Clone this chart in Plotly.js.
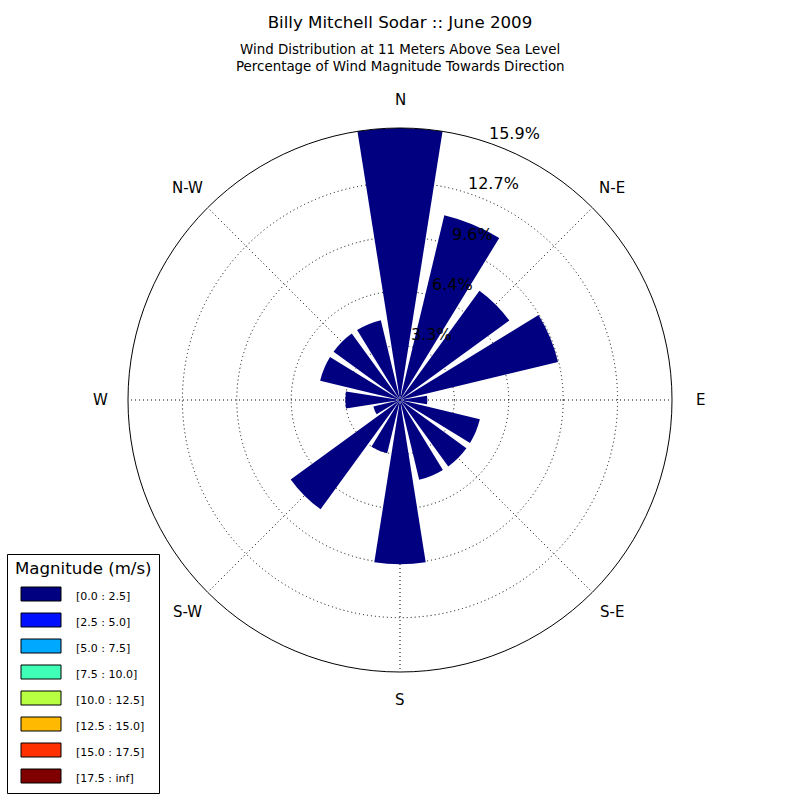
<!DOCTYPE html>
<html>
<head>
<meta charset="utf-8">
<script src="https://cdn.plot.ly/plotly-3.0.1.min.js"></script>
<style>
  html, body { margin: 0; padding: 0; background: #ffffff; }
  #chart { width: 800px; height: 800px; }
</style>
</head>
<body>
<div id="chart"></div>
<script>
// Sixteen direction sectors, clockwise from north
const directions = ['N', 'NNE', 'NE', 'ENE', 'E', 'ESE', 'SE', 'SSE',
                    'S', 'SSW', 'SW', 'WSW', 'W', 'WNW', 'NW', 'NNW'];

// Magnitude bins (m/s) and their colours
const binLabels = ['[0.0 : 2.5]', '[2.5 : 5.0]', '[5.0 : 7.5]', '[7.5 : 10.0]',
                   '[10.0 : 12.5]', '[12.5 : 15.0]', '[15.0 : 17.5]', '[17.5 : inf]'];
const binColors = ['#000080', '#0010ff', '#00a8ff', '#40ffb7',
                   '#b7ff40', '#ffb900', '#ff3000', '#800000'];

// Percentage of wind samples per sector, one array per magnitude bin
const bin0 = [15.9, 11.1, 7.9, 9.5, 1.6, 4.8, 4.8, 4.8, 9.6, 3.2, 7.9, 1.6, 3.2, 4.8, 4.8, 4.8];
const bin1 = [0, 0, 0, 0, 0, 0, 0, 0, 0, 0, 0, 0, 0, 0, 0, 0];
const bin2 = [0, 0, 0, 0, 0, 0, 0, 0, 0, 0, 0, 0, 0, 0, 0, 0];
const bin3 = [0, 0, 0, 0, 0, 0, 0, 0, 0, 0, 0, 0, 0, 0, 0, 0];
const bin4 = [0, 0, 0, 0, 0, 0, 0, 0, 0, 0, 0, 0, 0, 0, 0, 0];
const bin5 = [0, 0, 0, 0, 0, 0, 0, 0, 0, 0, 0, 0, 0, 0, 0, 0];
const bin6 = [0, 0, 0, 0, 0, 0, 0, 0, 0, 0, 0, 0, 0, 0, 0, 0];
const bin7 = [0, 0, 0, 0, 0, 0, 0, 0, 0, 0, 0, 0, 0, 0, 0, 0];

// Compass labels and radial ring labels
const compassLabels = ['N', 'N-E', 'E', 'S-E', 'S', 'S-W', 'W', 'N-W'];
const ringLabels = ['3.3%', '6.4%', '9.6%', '12.7%', '15.9%'];

const FONT = 'DejaVu Sans, Bitstream Vera Sans, sans-serif';
const W = 800, H = 800;
const bins = [bin0, bin1, bin2, bin3, bin4, bin5, bin6, bin7];

// Sector centre angles in degrees
const theta = directions.map((d, i) => i * 22.5);
const sectorWidth = 22.5 * 0.8;

// Outer ring = largest stacked sector total
const totals = directions.map((d, i) => bins.reduce((s, b) => s + b[i], 0));
const rmax = Math.max(...totals);
const ringVals = ringLabels.map((t, i) => rmax * (i + 1) / ringLabels.length);

const traces = bins.map((vals, k) => ({
  type: 'barpolar',
  r: vals,
  theta: theta,
  width: directions.map(() => sectorWidth),
  name: binLabels[k],
  marker: { color: binColors[k], line: { width: 0 } },
  showlegend: false,
  hoverinfo: 'skip'
}));

// Polar area geometry (paper units)
const domLo = 128 / W, domHi = 672 / W;
const cx = 0.5, cy = 0.5, R = (domHi - domLo) / 2;

const annotations = [];

// Title lines under the main title
annotations.push({
  xref: 'paper', yref: 'paper', x: 0.5, y: 1 - 49.5 / H,
  xanchor: 'center', yanchor: 'middle', showarrow: false,
  text: 'Wind Distribution at 11 Meters Above Sea Level',
  font: { family: FONT, size: 13.4, color: '#000' }
});
annotations.push({
  xref: 'paper', yref: 'paper', x: 0.5, y: 1 - 66 / H,
  xanchor: 'center', yanchor: 'middle', showarrow: false,
  text: 'Percentage of Wind Magnitude Towards Direction',
  font: { family: FONT, size: 13.4, color: '#000' }
});

// Compass labels just outside the outer ring
const compassRadius = 300 / W;
compassLabels.forEach((lab, i) => {
  const a = i * 45 * Math.PI / 180;
  annotations.push({
    xref: 'paper', yref: 'paper',
    x: cx + compassRadius * Math.sin(a),
    y: cy + compassRadius * Math.cos(a),
    xanchor: 'center', yanchor: 'middle', showarrow: false,
    text: lab,
    font: { family: FONT, size: 15, color: '#000' }
  });
});

// Ring labels along the 22.5 degree bearing
const labAng = 22.5 * Math.PI / 180;
ringVals.forEach((v, i) => {
  const rp = v / rmax * R;
  annotations.push({
    xref: 'paper', yref: 'paper',
    x: cx + rp * Math.sin(labAng) + 10.5 / W,
    y: cy + rp * Math.cos(labAng) + 15 / H,
    xanchor: 'center', yanchor: 'middle', showarrow: false,
    text: ringLabels[i],
    font: { family: FONT, size: 16, color: '#000' }
  });
});

// Legend box with title, colour patches and bin labels
const shapes = [];
shapes.push({
  type: 'rect', xref: 'paper', yref: 'paper',
  x0: 7.5 / W, x1: 159.5 / W, y0: 1 - 793.5 / H, y1: 1 - 554.5 / H,
  line: { color: '#000', width: 1 }, fillcolor: '#fff', layer: 'above'
});
annotations.push({
  xref: 'paper', yref: 'paper', x: 83 / W, y: 1 - 568 / H,
  xanchor: 'center', yanchor: 'middle', showarrow: false,
  text: 'Magnitude (m/s)',
  font: { family: FONT, size: 16.6, color: '#000' }
});
binLabels.forEach((lab, k) => {
  const top = 587 + k * 26;
  shapes.push({
    type: 'rect', xref: 'paper', yref: 'paper',
    x0: 21 / W, x1: 61 / W, y0: 1 - (top + 14) / H, y1: 1 - top / H,
    line: { color: '#000', width: 1 }, fillcolor: binColors[k], layer: 'above'
  });
  annotations.push({
    xref: 'paper', yref: 'paper', x: 73.5 / W, y: 1 - (top + 9.5) / H,
    xanchor: 'left', yanchor: 'middle', showarrow: false,
    text: lab,
    font: { family: FONT, size: 11, color: '#000' }
  });
});

const gridDash = '1px,3px';

const layout = {
  width: W, height: H,
  margin: { l: 0, r: 0, t: 0, b: 0, pad: 0 },
  paper_bgcolor: '#fff',
  showlegend: false,
  title: {
    text: 'Billy Mitchell Sodar :: June 2009',
    x: 0.5, xanchor: 'center', y: 1 - 22.5 / H, yanchor: 'middle',
    font: { family: FONT, size: 16.67, color: '#000' }
  },
  polar: {
    domain: { x: [domLo, domHi], y: [domLo, domHi] },
    bgcolor: '#fff',
    barmode: 'stack',
    radialaxis: {
      range: [0, rmax],
      tickmode: 'array', tickvals: ringVals,
      showticklabels: false, ticks: '',
      showline: false,
      gridcolor: '#000', gridwidth: 1, griddash: gridDash
    },
    angularaxis: {
      direction: 'clockwise', rotation: 90, thetaunit: 'degrees',
      tickmode: 'array',
      tickvals: compassLabels.map((c, i) => i * 45),
      showticklabels: false, ticks: '',
      showline: true, linecolor: '#000', linewidth: 1,
      gridcolor: '#000', gridwidth: 1, griddash: gridDash
    }
  },
  shapes: shapes,
  annotations: annotations
};

Plotly.newPlot('chart', traces, layout, { staticPlot: true, displayModeBar: false });
</script>
</body>
</html>
